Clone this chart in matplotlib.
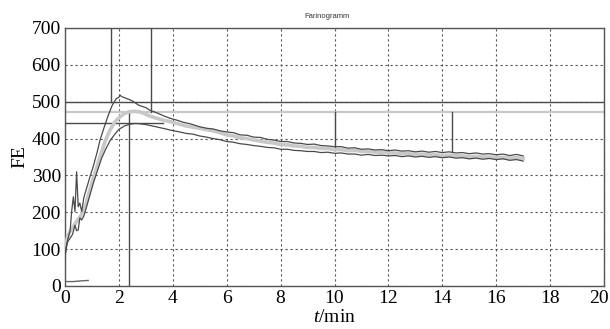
import matplotlib
matplotlib.use("Agg")
import matplotlib.pyplot as plt
import matplotlib.transforms as mtransforms

# ---- data ----
upper_t = [0, 0.05, 0.1, 0.15, 0.19, 0.25, 0.31, 0.37, 0.43, 0.49, 0.55, 0.62, 0.7, 0.8, 0.93,
           1.05, 1.2, 1.3, 1.45, 1.6, 1.75, 1.9, 2.0, 2.04, 2.1, 2.2, 2.35, 2.5, 2.75, 3.0, 3.15,
           3.4, 3.65, 3.9, 4.15, 4.4, 4.65, 5.0, 5.25, 5.5, 5.75, 6.0, 6.25, 6.5, 6.75, 7.0, 7.25,
           7.5, 7.75, 8.0, 8.25, 8.5, 8.75, 9.0, 9.25, 9.5, 9.75, 10.0, 10.25, 10.5, 10.75, 11.0,
           11.25, 11.5, 11.75, 12.0, 12.25, 12.5, 12.75, 13.0, 13.25, 13.5, 13.75, 14.0, 14.25,
           14.5, 14.75, 15.0, 15.25, 15.5, 15.75, 16.0, 16.25, 16.5, 16.75, 17.0]
upper_v = [76, 110, 125, 140, 150, 205, 242, 202, 310, 215, 225, 202, 240, 265, 297,
           325, 365, 396, 430, 462, 490, 508, 512, 518, 514, 511, 507, 502, 490, 484, 477,
           470, 462, 455, 450, 444, 440, 432, 428, 426, 421, 418, 416, 410, 409, 404, 403,
           398, 396, 392, 392, 388, 387, 384, 385, 381, 380, 378, 378, 374, 375, 371,
           372, 369, 370, 367, 369, 366, 367, 364, 366, 363, 365, 362, 364,
           361, 362, 359, 361, 358, 359, 356, 358, 354, 357, 353]

lower_t = [0, 0.05, 0.1, 0.19, 0.28, 0.37, 0.43, 0.49, 0.55, 0.62, 0.7, 0.8, 0.93, 1.05, 1.2,
           1.35, 1.5, 1.67, 1.85, 2.0, 2.2, 2.4, 2.6, 2.8, 3.0, 3.25, 3.5, 3.75, 3.9, 4.25, 4.5,
           4.75, 5.0, 5.25, 5.5, 5.75, 6.0, 6.25, 6.5, 6.75, 7.0, 7.25, 7.5, 7.75, 8.0, 8.25,
           8.5, 8.75, 9.0, 9.25, 9.5, 9.75, 10.0, 10.25, 10.5, 10.75, 11.0, 11.25, 11.5, 11.75,
           12.0, 12.25, 12.5, 12.75, 13.0, 13.25, 13.5, 13.75, 14.0, 14.25, 14.5, 14.75, 15.0,
           15.25, 15.5, 15.75, 16.0, 16.25, 16.5, 16.75, 17.0]
lower_v = [82, 105, 120, 130, 140, 165, 150, 152, 185, 179, 190, 215, 248, 279, 312,
           345, 370, 394, 412, 425, 434, 439, 441, 440, 438, 434, 430, 426, 423, 418, 414,
           412, 407, 404, 400, 397, 392, 390, 386, 384, 381, 379, 376, 375, 371, 371,
           368, 367, 365, 365, 362, 363, 360, 361, 358, 358, 355, 357, 354, 355,
           353, 354, 351, 353, 350, 352, 349, 351, 348, 350, 347, 348, 345,
           347, 344, 346, 343, 345, 341, 343, 339]

mid_t = [0, 0.05, 0.1, 0.2, 0.3, 0.4, 0.5, 0.6, 0.7, 0.8, 0.9, 1.0, 1.15, 1.3, 1.5, 1.67, 1.85,
         2.04, 2.2, 2.4, 2.6, 2.8, 3.0, 3.15, 3.4, 3.65, 3.9, 4.25, 4.5, 4.75, 5.0, 5.25, 5.5,
         5.75, 6.0, 6.25, 6.5, 6.75, 7.0, 7.25, 7.5, 7.75, 8.0, 8.25, 8.5, 8.75, 9.0, 9.25, 9.5,
         9.75, 10.0, 10.25, 10.5, 10.75, 11.0, 11.25, 11.5, 11.75, 12.0, 12.25, 12.5, 12.75,
         13.0, 13.25, 13.5, 13.75, 14.0, 14.25, 14.5, 14.75, 15.0, 15.25, 15.5, 15.75, 16.0,
         16.25, 16.5, 16.75, 17.0]
mid_v = [95, 120, 135, 150, 160, 172, 182, 192, 205, 228, 255, 280, 315, 351, 395, 423, 445,
         459, 468, 473, 474, 472, 466, 461, 455, 450, 446, 439, 434, 431, 428, 424, 421,
         416, 410, 407, 402, 400, 396, 393, 390, 388, 384, 383, 380, 379, 376, 376, 373,
         373, 370, 370, 367, 368, 365, 365, 363, 363, 361, 361, 359, 359,
         357, 358, 356, 356, 354, 355, 353, 353, 351, 352, 350, 350, 349,
         349, 347, 348, 346]

base_t = [0, 0.3, 0.6, 0.86]
base_v = [12, 12, 14, 15]

# marker lines
h_dark_full = 500
h_light_full = 473
h_dark_short = 441
h_dark_short_end = 3.63
v_lines = [(1.7, 500, 700), (3.19, 473, 700), (2.38, 0, 469),
           (10.0, 378, 471), (14.35, 364, 471)]

x_ticks = [0, 2, 4, 6, 8, 10, 12, 14, 16, 18, 20]
y_ticks = [0, 100, 200, 300, 400, 500, 600, 700]

plt.rcParams['font.family'] = ['Liberation Serif', 'DejaVu Serif']
plt.rcParams['mathtext.fontset'] = 'custom'
plt.rcParams['mathtext.it'] = 'Liberation Serif:italic'
plt.rcParams['mathtext.rm'] = 'Liberation Serif'

fig = plt.figure(figsize=(6.1, 3.29), dpi=100)
ax = fig.add_axes([65/610, 1-286/329, 539/610, 258/329])

dark = '#4a4a4a'
light = '#c8c8c8'

ax.set_xlim(0, 20)
ax.set_ylim(0, 700)
ax.set_xticks(x_ticks)
ax.set_yticks(y_ticks)
ax.tick_params(length=0, labelsize=14, pad=3, colors='black')
ax.grid(True, color='#555555', linestyle=(0, (2, 2.5)), linewidth=0.8)
ax.set_axisbelow(True)
for s in ax.spines.values():
    s.set_color('#555555')
    s.set_linewidth(1.0)

# shift last x tick label a little left so it stays inside the figure
last = ax.get_xticklabels()[-1]
last.set_transform(last.get_transform() + mtransforms.ScaledTranslation(-5/100, 0, fig.dpi_scale_trans))

ax.axhline(h_light_full, color=light, lw=1.6, zorder=2)
ax.axhline(h_dark_full, color=dark, lw=1.0, zorder=3)
ax.plot([0, h_dark_short_end], [h_dark_short, h_dark_short], color=dark, lw=1.0, zorder=3)
for x, y0, y1 in v_lines:
    ax.plot([x, x], [y0, y1], color=dark, lw=1.0, zorder=3)

ax.plot(mid_t, mid_v, color=light, lw=2.6, zorder=4)
ax.plot(upper_t, upper_v, color=dark, lw=0.9, zorder=5)
ax.plot(lower_t, lower_v, color=dark, lw=0.9, zorder=5)
ax.plot(base_t, base_v, color='#666666', lw=1.0, zorder=5)

ax.set_xlabel('$t$/min', fontsize=14, labelpad=1)
ax.set_ylabel('FE', fontsize=14, labelpad=2)

fig.text(327/610, 1-16/329, 'Farinogramm', ha='center', va='center', fontsize=5.5,
         family='Liberation Sans', color='#333333')

fig.savefig('out.png', dpi=100)
